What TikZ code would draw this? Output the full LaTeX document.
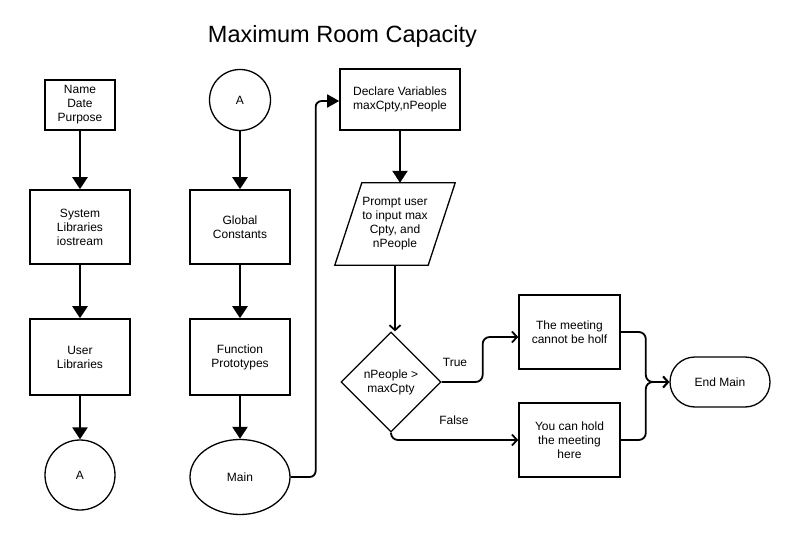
\documentclass[tikz,border=0pt]{standalone}
\usepackage{fontspec}
\setmainfont{Liberation Sans}
\usetikzlibrary{shapes.geometric,arrows.meta,calc}
\begin{document}
\begin{tikzpicture}[x=1pt,y=-1pt,
  every node/.style={font=\fontsize{12}{14}\selectfont, align=center},
  box/.style={draw, line width=1.6pt, minimum width=100pt, minimum height=74pt, inner sep=2pt},
  circ/.style={draw, line width=1.3pt, circle, inner sep=0pt},
  blk/.style={line width=2.4pt, -{Triangle[length=12pt,width=15pt]}},
  blkthin/.style={line width=1.8pt, -{Triangle[length=12pt,width=13pt]}, rounded corners=6pt},
  barb/.style={line width=1.8pt, -{Straight Barb[length=5pt,width=11pt,line width=1.8pt]}, rounded corners=7pt},
  lbl/.style={font=\fontsize{12}{14}\selectfont}
]
\useasboundingbox (0,0) rectangle (796,535);
\node[font=\fontsize{23.5}{27}\selectfont] (title) at (342.5,36) {Maximum Room Capacity};

% left column
\node[box, minimum width=70pt, minimum height=50pt] (name) at (80,105) {Name\\Date\\Purpose};
\node[box] (sys) at (80,227) {System\\Libraries\\iostream};
\node[box, minimum height=76pt] (user) at (80,357) {User\\Libraries};
\node[circ, minimum size=70pt] (a1) at (80,475) {A};

% second column
\node[circ, minimum size=61pt] (a2) at (240,100) {A};
\node[box] (glob) at (240,227) {Global\\Constants};
\node[box, minimum height=76pt] (proto) at (240,357) {Function\\Prototypes};
\node[draw, line width=1.3pt, ellipse, minimum width=100pt, minimum height=75pt, inner sep=0pt] (main) at (240,477) {Main};

% third column
\node[box, minimum width=120pt, minimum height=61pt] (decl) at (400,99.5) {Declare Variables\\maxCpty,nPeople};
\node[minimum width=120pt, minimum height=82pt, inner sep=0pt] (inp) at (395,224) {Prompt user\\to input max\\Cpty, and\\nPeople};
\draw[line width=1.3pt] ($(inp.north west)+(27,0)$) -- (inp.north east) -- ($(inp.south east)+(-27,0)$) -- (inp.south west) -- cycle;
\node[draw, line width=1.3pt, diamond, aspect=1, minimum width=100pt, minimum height=100pt, inner sep=0pt] (dia) at (391,382) {nPeople >\\maxCpty};

\node[box, minimum width=101pt] (tru) at (569.5,332) {The meeting\\cannot be holf};
\node[box, minimum width=101pt] (fal) at (569.5,440) {You can hold\\the meeting\\here};
\node[draw, line width=1.3pt, rounded corners=25pt, minimum width=100pt, minimum height=50pt] (endm) at (720,382) {End Main};

\node[lbl] (ltrue) at (455,362) {True};
\node[lbl] (lfalse) at (454,420) {False};

% connectors
\draw[blk] (name) -- (sys);
\draw[blk] (sys) -- (user);
\draw[blk] (user) -- (a1);
\draw[blk] (a2) -- (glob);
\draw[blk] (glob) -- (proto);
\draw[blk] (proto) -- (main);
\draw[blkthin] (main.east) -- ++(25,0) |- ([yshift=-1.5pt]decl.west);
\draw[blk] (decl.south) -- (decl.south |- inp.north);
\draw[barb] (inp.south) -- (inp.south |- dia.north);
\draw[barb] (dia.east) -- ++(41,0) |- ([yshift=-5pt]tru.west);
\draw[barb] (dia.south) |- (fal.west);
\draw[barb] (tru.east) -- ++(25,0) |- (endm.west);
\draw[barb] (fal.east) -- ++(25,0) |- (endm.west);
\end{tikzpicture}
\end{document}
